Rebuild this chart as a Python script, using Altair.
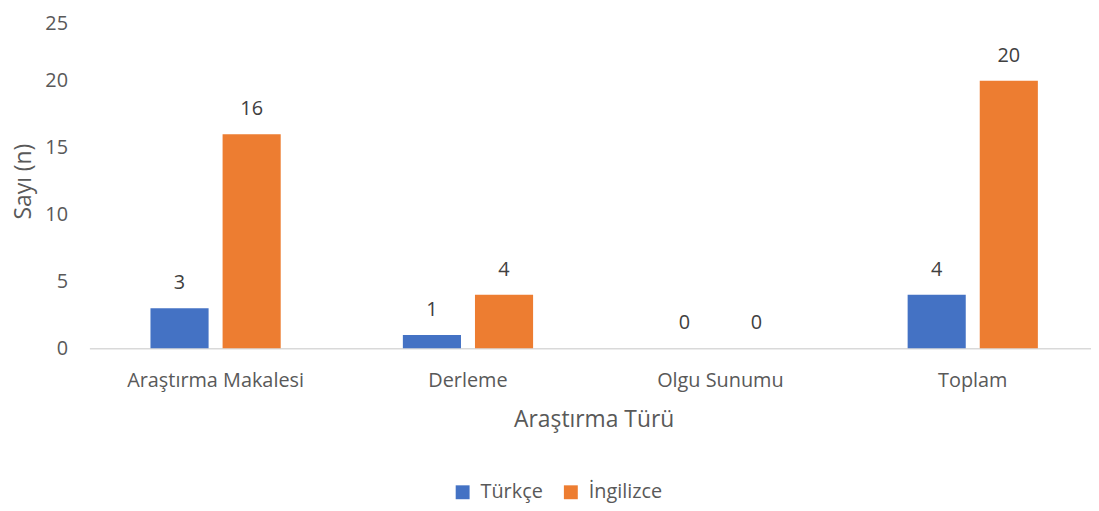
import altair as alt
import pandas as pd

categories = ["Araştırma Makalesi", "Derleme", "Olgu Sunumu", "Toplam"]
languages = ["Türkçe", "İngilizce"]
turkce = [3, 1, 0, 4]
ingilizce = [16, 4, 0, 20]
colors = ["#4472C4", "#ED7D31"]

rows = []
for i, c in enumerate(categories):
    rows.append({"tur": c, "dil": languages[0], "n": turkce[i]})
    rows.append({"tur": c, "dil": languages[1], "n": ingilizce[i]})
df = pd.DataFrame(rows)

FONT = "Open Sans"
W, H = 1009, 337

x = alt.X("tur:N", sort=categories,
          scale=alt.Scale(paddingInner=0, paddingOuter=0, range=[0, 1017]),
          axis=alt.Axis(title="Araştırma Türü", labelAngle=0, ticks=False, tickSize=0,
                        labelPadding=22, labelFontSize=20, labelColor="#595959",
                        domainColor="#D9D9D9", domainWidth=1.5,
                        titleFontSize=23, titleColor="#595959", titleFontWeight="normal",
                        titleX=508, titleY=72, titleBaseline="middle", grid=False))
xo = alt.XOffset("dil:N", sort=languages,
                 scale=alt.Scale(paddingInner=0.194, paddingOuter=0.847))
y = alt.Y("n:Q", scale=alt.Scale(domain=[0, 25]),
          axis=alt.Axis(title="Sayı (n)", values=[0, 5, 10, 15, 20, 25], grid=False,
                        domain=False, ticks=False, tickSize=0, labelPadding=22,
                        labelFontSize=20, labelColor="#595959",
                        labelOffset={"condition": {"test": "datum.value == 25", "value": 10}, "value": 0},
                        titleFontSize=23, titleColor="#595959", titleFontWeight="normal",
                        titleX=-66, titleBaseline="middle"))
color = alt.Color("dil:N", sort=languages,
                  scale=alt.Scale(domain=languages, range=colors),
                  legend=alt.Legend(title=None, orient="none", legendX=366, legendY=472,
                                    direction="horizontal", symbolType="square",
                                    symbolSize=196, symbolStrokeWidth=0,
                                    labelFontSize=20, labelColor="#595959",
                                    columnPadding=18, labelOffset=8))

base = alt.Chart(df).encode(x=x, xOffset=xo, y=y)
bars = base.mark_bar().encode(color=color)
labels = base.mark_text(baseline="bottom", dy=-15, fontSize=20, color="#404040", font=FONT).encode(
    text="n:Q")

chart = (bars + labels).properties(
    width=W, height=H,
    autosize=alt.AutoSizeParams(type="none"),
    padding={"left": 82, "top": 4, "right": 0, "bottom": 160},
).configure(font=FONT).configure_view(stroke=None)

chart.save("out.html", embed_options={"renderer": "svg", "actions": False})
